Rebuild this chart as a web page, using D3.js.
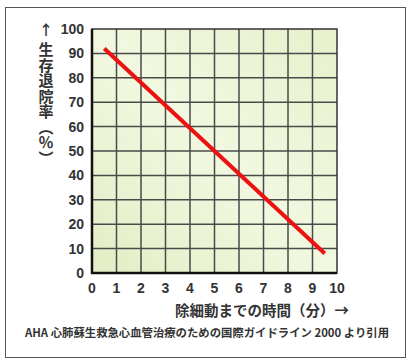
<!DOCTYPE html>
<html>
<head>
<meta charset="utf-8">
<script src="https://cdn.jsdelivr.net/npm/d3@7"></script>
<style>
  body { margin: 0; background: #fff; }
  text { font-family: "Liberation Sans", "Noto Sans CJK JP", sans-serif; font-weight: bold; fill: #333; }
  .jp { font-family: "Noto Sans CJK JP", sans-serif; }
</style>
</head>
<body>
<div id="chart"></div>
<script>
var width = 413, height = 360;

// data
var minutes = [0.5, 9.5];
var survival = [92, 8];
var xTicks = [0, 1, 2, 3, 4, 5, 6, 7, 8, 9, 10];
var yTicks = [0, 10, 20, 30, 40, 50, 60, 70, 80, 90, 100];
var yLabel = "生存退院率（％）";
var xLabel = "除細動までの時間（分）→";
var caption = "AHA 心肺蘇生救急心血管治療のための国際ガイドライン 2000 より引用";

var margin = {left: 92, right: 76, top: 29, bottom: 87};
var w = width - margin.left - margin.right,
    h = height - margin.top - margin.bottom;

var svg = d3.select("#chart").append("svg")
    .attr("width", width)
    .attr("height", height);

// outer frame
svg.append("rect")
    .attr("x", 5.5).attr("y", 7.5)
    .attr("width", 400).attr("height", 350)
    .attr("fill", "none")
    .attr("stroke", "#555")
    .attr("stroke-width", 1);

var grad = svg.append("defs").append("linearGradient")
    .attr("id", "bg")
    .attr("x1", "0%").attr("y1", "100%")
    .attr("x2", "100%").attr("y2", "0%");
grad.append("stop").attr("offset", "0%").attr("stop-color", "#e2eec4");
grad.append("stop").attr("offset", "50%").attr("stop-color", "#f1f8e0");
grad.append("stop").attr("offset", "100%").attr("stop-color", "#e6f1cc");

var x = d3.scaleLinear().domain([0, 10]).range([0, w]);
var y = d3.scaleLinear().domain([0, 100]).range([h, 0]);

var g = svg.append("g")
    .attr("transform", "translate(" + margin.left + "," + margin.top + ")");

g.append("rect")
    .attr("width", w).attr("height", h)
    .attr("fill", "url(#bg)");

// grid
g.selectAll(".vg")
  .data(xTicks.slice(1, -1))
  .enter().append("line")
    .attr("x1", d => x(d)).attr("x2", d => x(d))
    .attr("y1", 0).attr("y2", h)
    .attr("stroke", "#4a4a4a")
    .attr("stroke-width", 1.5);

g.selectAll(".hg")
  .data(yTicks.slice(1, -1))
  .enter().append("line")
    .attr("y1", d => y(d)).attr("y2", d => y(d))
    .attr("x1", 0).attr("x2", w)
    .attr("stroke", "#4a4a4a")
    .attr("stroke-width", 1.5);

g.append("rect")
    .attr("width", w).attr("height", h)
    .attr("fill", "none")
    .attr("stroke", "#333")
    .attr("stroke-width", 1.5);
g.append("path")
    .attr("d", "M0,0V" + h + "H" + w)
    .attr("fill", "none")
    .attr("stroke", "#111")
    .attr("stroke-width", 2.5);

// tick labels
g.selectAll(".yt")
  .data(yTicks)
  .enter().append("text")
    .attr("x", -8)
    .attr("y", d => y(d))
    .attr("dy", "0.36em")
    .attr("text-anchor", "end")
    .attr("font-size", 14)
    .text(d => d);

g.selectAll(".xt")
  .data(xTicks)
  .enter().append("text")
    .attr("x", d => x(d))
    .attr("y", h + 20)
    .attr("text-anchor", "middle")
    .attr("font-size", 14)
    .text(d => d);

// line
var line = d3.line()
    .x(d => x(d[0]))
    .y(d => y(d[1]));

g.append("path")
    .datum(minutes.map((m, i) => [m, survival[i]]))
    .attr("d", line)
    .attr("fill", "none")
    .attr("stroke", "#ee1111")
    .attr("stroke-width", 4);

// vertical y label
svg.append("text")
    .attr("class", "jp")
    .attr("x", 46)
    .attr("y", 30)
    .attr("dy", "0.36em")
    .attr("text-anchor", "middle")
    .attr("font-size", 14)
    .text("↑");

svg.append("text")
    .attr("class", "jp")
    .attr("x", 46)
    .attr("y", 42)
    .attr("font-size", 15)
    .attr("letter-spacing", 0.5)
    .style("writing-mode", "vertical-rl")
    .text(yLabel);

svg.append("text")
    .attr("class", "jp")
    .attr("x", 262)
    .attr("y", 311)
    .attr("dy", "0.36em")
    .attr("text-anchor", "middle")
    .attr("font-size", 14.5)
    .text(xLabel);

svg.append("text")
    .attr("class", "jp")
    .attr("x", 207)
    .attr("y", 333)
    .attr("dy", "0.36em")
    .attr("text-anchor", "middle")
    .attr("font-size", 11.5)
    .attr("textLength", 364)
    .attr("lengthAdjust", "spacingAndGlyphs")
    .text(caption);
</script>
</body>
</html>
